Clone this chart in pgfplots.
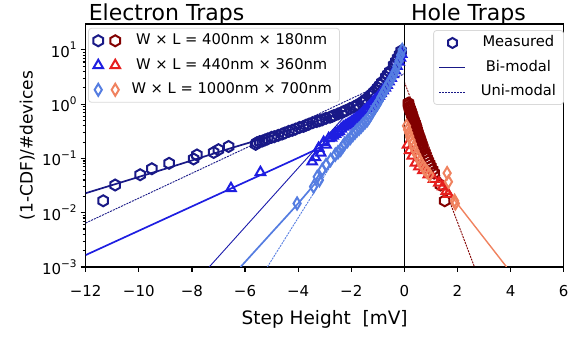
\documentclass[border=0pt]{standalone}
\usepackage{fontspec}
\setmainfont{DejaVu Sans}
\usepackage{pgfplots}
\pgfplotsset{compat=1.18}
\definecolor{cNavy}{RGB}{25,25,135}
\definecolor{cBlue}{RGB}{30,30,225}
\definecolor{cLBlue}{RGB}{85,125,225}
\definecolor{cDRed}{RGB}{130,0,0}
\definecolor{cRed}{RGB}{230,30,30}
\definecolor{cSalmon}{RGB}{240,130,95}
\pgfdeclareplotmark{hexa}{%
  \pgfpathmoveto{\pgfqpointpolar{90}{\pgfplotmarksize}}%
  \pgfpathlineto{\pgfqpointpolar{150}{\pgfplotmarksize}}%
  \pgfpathlineto{\pgfqpointpolar{210}{\pgfplotmarksize}}%
  \pgfpathlineto{\pgfqpointpolar{270}{\pgfplotmarksize}}%
  \pgfpathlineto{\pgfqpointpolar{330}{\pgfplotmarksize}}%
  \pgfpathlineto{\pgfqpointpolar{30}{\pgfplotmarksize}}%
  \pgfpathclose\pgfusepathqstroke}
\pgfdeclareplotmark{tdiamond}{%
  \pgfpathmoveto{\pgfqpoint{0pt}{\pgfplotmarksize}}%
  \pgfpathlineto{\pgfqpoint{0.6\pgfplotmarksize}{0pt}}%
  \pgfpathlineto{\pgfqpoint{0pt}{-\pgfplotmarksize}}%
  \pgfpathlineto{\pgfqpoint{-0.6\pgfplotmarksize}{0pt}}%
  \pgfpathclose\pgfusepathqstroke}
\newcommand{\tenpow}[1]{10\raisebox{0.5em}{\fontsize{10.5}{10.5}\selectfont #1}}
\pgfplotsset{
  every axis/.append style={line width=1.5pt},
  hexm/.style={only marks, forget plot, mark=hexa, mark size=5.5pt, line width=2pt, mark options={solid}},
  trim/.style={only marks, forget plot, mark=triangle, mark size=5.5pt, line width=2pt, mark options={solid}},
  diam/.style={only marks, forget plot, mark=tdiamond, mark size=6pt, line width=2pt, mark options={solid}},
  bim/.style={no marks, forget plot, line width=1.7pt},
  unim/.style={no marks, forget plot, line width=0.9pt, dash pattern=on 2pt off 1pt},
  legsty/.style={draw=gray!30, rounded corners=3pt, line width=0.8pt,
    font=\fontsize{14.7}{16}\selectfont, row sep=5.5pt, inner ysep=3pt, inner xsep=5pt, fill=white, fill opacity=0.8, text opacity=1,
    nodes={inner sep=2.5pt, text height=11pt, text depth=3pt},
    /tikz/every odd column/.append style={column sep=#1}},
}
\begin{document}
\begin{tikzpicture}
\useasboundingbox (-85.7pt,-85pt) rectangle (484.3pt,267pt);
\begin{axis}[
  at={(0pt,0pt)}, anchor=south west,
  scale only axis, width=478pt, height=243pt,
  xmin=-12, xmax=6, ymin=1e-3, ymax=30, ymode=log,
  xtick={-12,-10,-8,-6,-4,-2,0,2,4,6},
  xticklabels={−12,−10,−8,−6,−4,−2,0,2,4,6},
  ytick={1e-3,1e-2,1e-1,1,10},
  yticklabels={\tenpow{−3},\tenpow{−2},\tenpow{−1},\tenpow{0},\tenpow{1}},
  tick align=outside, xtick pos=left, ytick pos=left,
  major tick length=5pt, minor tick length=3pt,
  every tick/.style={black, line width=1.2pt},
  axis line style={line width=1.5pt},
  tick label style={font=\fontsize{15}{16}\selectfont},
  xticklabel style={yshift=-9pt},
  xlabel={Step Height\ \ [mV]},
  ylabel={(1-CDF)/\#devices},
  xlabel style={font=\fontsize{18.5}{20}\selectfont, at={(axis description cs:0.5,0)}, anchor=center, yshift=-52pt},
  ylabel style={font=\fontsize{17}{19}\selectfont, at={(axis description cs:-0.122,0.5)}, anchor=center},
  legend style={at={(0.005,0.984)}, anchor=north west, legsty=9pt},
]
% ---------- Electron traps: 400x180 ----------
\addplot[hexm, cNavy] coordinates {(-11.34,0.0166)(-10.89,0.0324)(-9.95,0.0501)(-9.51,0.0646)(-8.86,0.0813)(-7.94,0.0977)(-7.81,0.116)(-7.18,0.129)(-7.00,0.145)(-6.62,0.166)
(-5.60,0.182)(-5.55,0.195)(-5.45,0.204)(-5.35,0.209)(-5.25,0.219)(-5.15,0.229)(-5.00,0.245)(-4.90,0.251)(-4.75,0.266)(-4.60,0.282)(-4.50,0.295)(-4.35,0.316)(-4.22,0.330)(-4.10,0.347)(-3.95,0.372)(-3.80,0.389)(-3.70,0.410)(-3.60,0.427)(-3.45,0.457)(-3.30,0.479)(-3.20,0.496)(-3.10,0.513)(-2.95,0.550)(-2.80,0.575)(-2.72,0.596)(-2.65,0.617)(-2.50,0.661)(-2.35,0.708)(-2.28,0.733)(-2.20,0.759)(-2.05,0.832)(-1.90,0.891)(-1.82,0.930)(-1.75,0.977)(-1.60,1.072)(-1.52,1.150)(-1.45,1.230)(-1.30,1.413)(-1.22,1.530)(-1.15,1.660)(-1.00,1.995)(-0.92,2.240)(-0.85,2.512)(-0.70,3.162)(-0.62,3.550)(-0.55,3.981)(-0.40,5.248)(-0.32,6.100)(-0.25,7.079)(-0.18,8.200)(-0.12,9.550)};
% ---------- 440x360 ----------
\addplot[trim, cBlue] coordinates {(-6.53,0.0282)(-5.42,0.0556)(-3.47,0.0871)(-3.35,0.1047)(-3.23,0.155)(-3.15,0.126)(-3.04,0.1995)(-2.95,0.178)(-2.85,0.234)(-2.75,0.240)(-2.68,0.260)(-2.60,0.282)(-2.52,0.300)(-2.45,0.316)(-2.38,0.350)(-2.30,0.380)(-2.22,0.400)(-2.15,0.417)(-2.08,0.440)(-2.00,0.468)(-1.92,0.500)(-1.85,0.525)(-1.78,0.560)(-1.70,0.603)(-1.62,0.650)(-1.55,0.708)(-1.48,0.770)(-1.40,0.832)(-1.32,0.910)(-1.25,1.0)(-1.18,1.100)(-1.10,1.202)(-1.02,1.300)(-0.95,1.413)(-0.88,1.580)(-0.80,1.778)(-0.72,2.000)(-0.65,2.239)(-0.58,2.600)(-0.50,3.020)(-0.42,3.550)(-0.35,4.169)(-0.28,5.000)(-0.20,6.026)(-0.15,7.100)(-0.10,8.318)};
% ---------- 1000x700 ----------
\addplot[diam, cLBlue] coordinates {(-4.04,0.0148)(-3.42,0.0302)(-3.28,0.0457)(-3.20,0.0398)(-3.09,0.0617)(-2.95,0.0759)(-2.78,0.0933)(-2.60,0.1175)(-2.50,0.130)(-2.40,0.1445)(-2.32,0.165)(-2.25,0.186)(-2.14,0.210)(-2.03,0.240)(-1.94,0.270)(-1.85,0.302)(-1.78,0.330)(-1.70,0.355)(-1.62,0.390)(-1.55,0.427)(-1.47,0.470)(-1.39,0.513)(-1.32,0.580)(-1.25,0.661)(-1.18,0.760)(-1.10,0.871)(-1.02,1.000)(-0.95,1.148)(-0.88,1.350)(-0.80,1.585)(-0.72,1.850)(-0.65,2.138)(-0.58,2.450)(-0.50,2.818)(-0.42,3.350)(-0.35,3.981)(-0.28,5.000)(-0.20,6.310)(-0.14,8.000)(-0.08,10.0)};
% fits electrons
\addplot[bim, cNavy, smooth, tension=0.4] coordinates {(-12,0.0229)(-9,0.0646)(-6.6,0.151)(-5.5,0.219)(-4.5,0.309)(-3.5,0.447)(-2.5,0.676)(-2,0.871)(-1.5,1.175)(-1,1.905)(-0.5,4.169)(-0.2,7.586)(0,12.02)};
\addplot[unim, cNavy] coordinates {(-12,0.00646)(0,3.63)};
\addplot[bim, cBlue, smooth, tension=0.4] coordinates {(-12,0.00166)(-6.53,0.0279)(-3.4,0.141)(-2.5,0.263)(-2,0.398)(-1.5,0.661)(-1,1.202)(-0.5,2.818)(-0.2,5.623)(0,9.55)};
\addplot[no marks, forget plot, line width=0.9pt, cNavy!60!cBlue] coordinates {(-7.35,0.001)(0,10)};
\addplot[bim, cLBlue, smooth, tension=0.4] coordinates {(-6.17,0.001)(-5,0.00427)(-4.04,0.0141)(-3,0.0562)(-2,0.224)(-1.5,0.427)(-1,0.891)(-0.5,2.399)(-0.2,5.623)(0,11.22)};
\addplot[unim, cLBlue] coordinates {(-5.16,0.001)(0,10.7)};
% ---------- Hole traps ----------
\addplot[unim, cDRed] coordinates {(0,2.57)(2.64,0.001)};
\addplot[bim, cSalmon, line width=1.4pt] coordinates {(0,0.263)(3.85,0.001)};
\addplot[hexm, cDRed] coordinates {(0.15,1.047)(0.16,0.970)(0.18,0.891)(0.20,0.840)(0.22,0.794)(0.24,0.740)(0.26,0.692)(0.28,0.645)(0.30,0.603)(0.32,0.560)(0.34,0.525)(0.36,0.495)(0.38,0.468)(0.40,0.437)(0.42,0.407)(0.44,0.380)(0.46,0.355)(0.48,0.328)(0.50,0.302)(0.52,0.282)(0.54,0.263)(0.56,0.245)(0.58,0.229)(0.60,0.214)(0.62,0.1995)(0.64,0.186)(0.66,0.174)(0.68,0.162)(0.70,0.151)(0.75,0.132)(0.80,0.115)(0.85,0.100)(0.90,0.0891)(0.95,0.0794)(1.00,0.0708)(1.06,0.0617)(1.12,0.0537)(1.36,0.0324)(1.52,0.0166)};
\addplot[trim, cRed] coordinates {(0.12,0.178)(0.20,0.141)(0.30,0.112)(0.42,0.0832)(0.55,0.0708)(0.70,0.0603)(0.90,0.0501)(1.10,0.0417)(1.30,0.0355)(1.45,0.0302)(1.58,0.0251)(1.65,0.0219)};
\addplot[diam, cSalmon] coordinates {(0.08,0.398)(0.12,0.339)(0.16,0.295)(0.20,0.257)(0.25,0.219)(0.30,0.186)(0.35,0.158)(0.40,0.138)(0.46,0.1175)(0.52,0.102)(0.58,0.0891)(0.64,0.0794)(0.70,0.0708)(0.78,0.0631)(0.86,0.0562)(0.95,0.0501)(1.61,0.0537)(1.66,0.0372)(1.89,0.0166)(1.92,0.0148)};
% separator
\addplot[no marks, forget plot, black, line width=1.6pt] coordinates {(0,0.001)(0,30)};
% legend
\addlegendimage{legend image code/.code={
  \draw[cNavy, line width=2pt, mark size=5.5pt] plot[only marks, mark=hexa] coordinates {(6pt,0pt)};
  \draw[cDRed, line width=2pt, mark size=5.5pt] plot[only marks, mark=hexa] coordinates {(23pt,0pt)};}}
\addlegendentry{W × L = 400nm × 180nm}
\addlegendimage{legend image code/.code={
  \draw[cBlue, line width=2pt, mark size=5.5pt] plot[only marks, mark=triangle] coordinates {(6pt,0pt)};
  \draw[cRed, line width=2pt, mark size=5.5pt] plot[only marks, mark=triangle] coordinates {(23pt,0pt)};}}
\addlegendentry{W × L = 440nm × 360nm}
\addlegendimage{legend image code/.code={
  \draw[cLBlue, line width=2pt, mark size=6pt] plot[only marks, mark=tdiamond] coordinates {(6pt,0pt)};
  \draw[cSalmon, line width=2pt, mark size=6pt] plot[only marks, mark=tdiamond] coordinates {(23pt,0pt)};}}
\addlegendentry{W × L = 1000nm × 700nm}
\end{axis}
\begin{axis}[
  at={(0pt,0pt)}, anchor=south west,
  scale only axis, width=478pt, height=243pt, hide axis, clip=false,
  xmin=0, xmax=1, ymin=0, ymax=1,
  legend style={at={(0.727,0.975)}, anchor=north west, legsty=12pt},
]
\addlegendimage{legend image code/.code={
  \path (0pt,0pt) (26pt,0pt);
  \draw[cNavy, line width=2pt, mark size=5pt] plot[only marks, mark=hexa] coordinates {(13pt,0pt)};}}
\addlegendentry{Measured}
\addlegendimage{legend image code/.code={\draw[cNavy, line width=1.7pt] (0pt,0pt) -- (26pt,0pt);}}
\addlegendentry{Bi-modal}
\addlegendimage{legend image code/.code={\draw[cNavy, line width=0.9pt, dash pattern=on 2pt off 1pt] (0pt,0pt) -- (26pt,0pt);}}
\addlegendentry{Uni-modal}
\node[anchor=base west, font=\fontsize{22}{25}\selectfont] at (axis description cs:-0.002,1) [yshift=3pt] {Electron Traps};
\node[anchor=base west, font=\fontsize{22}{25}\selectfont] at (axis description cs:0.672,1) [yshift=3pt] {Hole Traps};
\end{axis}
\end{tikzpicture}
\end{document}
